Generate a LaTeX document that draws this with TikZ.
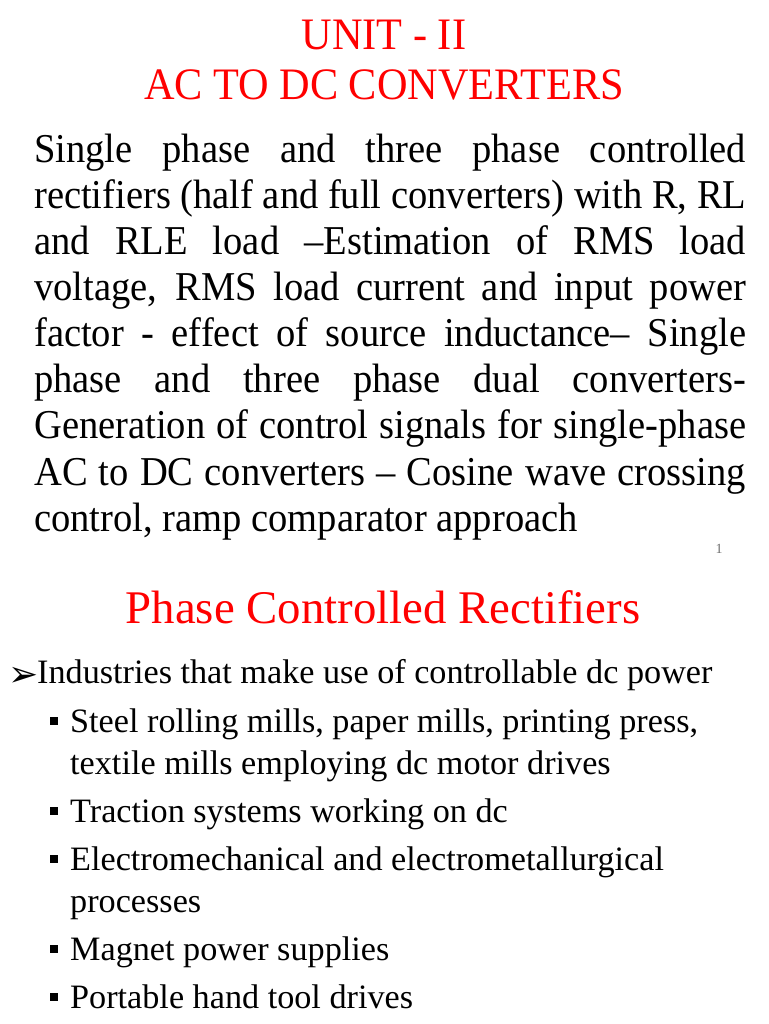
\documentclass[tikz,border=0pt]{standalone}
\usepackage{fontspec}
\setmainfont{Liberation Serif}[FakeStretch=0.94]
\newfontfamily\plainserif{Liberation Serif}
\newfontfamily\dingfont{DejaVu Sans}
\usetikzlibrary{positioning}

\definecolor{slidered}{RGB}{255,0,0}
\definecolor{pagegray}{RGB}{110,110,110}

\begin{document}
\begin{tikzpicture}[x=1pt, y=-1pt,
    heading/.style={inner sep=0pt, anchor=base, text=slidered, font=\fontsize{45}{49}\selectfont},
    bodyline/.style={inner sep=0pt, anchor=base west, font=\plainserif\fontsize{34.2}{40}\selectfont},
    subbullet/.style={fill=black, minimum size=7.5pt, inner sep=0pt}
]
    \useasboundingbox (0,0) rectangle (768,1024);

    % Slide 1 titles
    \node[heading] (unit) at (384,50) {UNIT - II};
    \node[heading] (topic) at (384,100) {AC TO DC CONVERTERS};

    % Syllabus paragraph (justified)
    \node[inner sep=0pt, anchor=base west] (syllabus) at (34,163) {\parbox[t]{712pt}{\fontsize{41}{46}\selectfont\hyphenpenalty=10000
        Single phase and three phase controlled\linebreak
        rectifiers (half and full converters) with R, RL\linebreak
        and RLE load --Estimation of RMS load\linebreak
        voltage, RMS load current and input power\linebreak
        factor - effect of source inductance-- Single\linebreak
        phase and three phase dual converters-\linebreak
        Generation of control signals for single-phase\linebreak
        AC to DC converters -- Cosine wave crossing\linebreak
        control, ramp comparator approach}};

    % Page number
    \node[inner sep=0pt, anchor=base, text=pagegray, font=\plainserif\fontsize{14}{16}\selectfont] (pageno) at (719,553) {1};

    % Slide 2 title
    \node[heading, font=\plainserif\fontsize{46.8}{50}\selectfont] (pcr) at (383,623) {Phase Controlled Rectifiers};

    % Main point
    \node[inner sep=0pt, anchor=base west, font=\dingfont\fontsize{36}{40}\selectfont] (arrowmark) at (8,686) {➢};
    \node[bodyline] (industries) at (37,683) {Industries that make use of controllable dc power};

    % Sub points
    \node[bodyline] (steel) at (70,732) {Steel rolling mills, paper mills, printing press,};
    \node[bodyline] (textile) at (70,774) {textile mills employing dc motor drives};
    \node[bodyline] (traction) at (70,822) {Traction systems working on dc};
    \node[bodyline] (electro) at (70,870) {Electromechanical and electrometallurgical};
    \node[bodyline] (processes) at (70,912) {processes};
    \node[bodyline] (magnet) at (70,960) {Magnet power supplies};
    \node[bodyline] (portable) at (70,1008) {Portable hand tool drives};

    \foreach \n in {steel,traction,electro,magnet,portable}
        \path (\n.base west) ++(-16,-11) node[subbullet] {};

\end{tikzpicture}
\end{document}
